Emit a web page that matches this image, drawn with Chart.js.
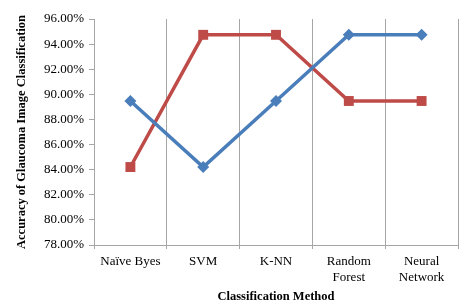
<!DOCTYPE html>
<html>
<head>
<meta charset="utf-8">
<script src="https://cdn.jsdelivr.net/npm/chart.js@4/dist/chart.umd.min.js"></script>
<style>
  html, body { margin: 0; padding: 0; background: #fff; }
  #wrap { width: 469px; height: 308px; }
</style>
</head>
<body>
<div id="wrap"><canvas id="grafico" width="469" height="308"></canvas></div>
<script>
// categorie e valori
var metodi = ['Naïve Byes', 'SVM', 'K-NN', ['Random', 'Forest'], ['Neural', 'Network']];
var serieBlu = [89.47, 84.21, 89.47, 94.74, 94.74];
var serieRossa = [84.21, 94.74, 94.74, 89.47, 89.47];
var tickMin = 78;
var tickMax = 96;
var tickStep = 2;

var serif = "'Liberation Serif', 'Times New Roman', serif";
var grigio = '#a6a6a6';

var ctx = document.getElementById('grafico');
var chart = new Chart(ctx, {
    type: 'line',
    data: {
        labels: metodi,
        datasets: [{
            label: 'Serie 1',
            data: serieBlu,
            borderColor: '#4a7ebb',
            backgroundColor: '#4a7ebb',
            borderWidth: 3.5,
            pointStyle: 'rectRot',
            pointRadius: 6,
            pointBorderWidth: 0,
            tension: 0
        }, {
            label: 'Serie 2',
            data: serieRossa,
            borderColor: '#be4b48',
            backgroundColor: '#be4b48',
            borderWidth: 3.5,
            pointStyle: 'rect',
            pointRadius: 7,
            pointBorderWidth: 0,
            tension: 0
        }]
    },
    options: {
        responsive: false,
        animation: false,
        devicePixelRatio: 1,
        layout: { padding: { top: 19, right: 11, left: 0, bottom: 4 } },
        plugins: {
            legend: { display: false },
            tooltip: { enabled: false }
        },
        scales: {
            x: {
                offset: true,
                grid: {
                    offset: true,
                    color: grigio,
                    lineWidth: 1,
                    drawTicks: true,
                    tickLength: 4
                },
                border: { color: grigio },
                ticks: {
                    color: '#000',
                    font: { family: serif, size: 13 },
                    maxRotation: 0,
                    autoSkip: false,
                    padding: 5
                },
                title: {
                    display: true,
                    text: 'Classification Method',
                    color: '#000',
                    font: { family: serif, size: 12.5, weight: 'bold' },
                    padding: { top: 4, bottom: 0 }
                },
                afterFit: function (scale) { scale.height = 59; }
            },
            y: {
                min: tickMin,
                max: tickMax,
                grid: {
                    drawOnChartArea: false,
                    drawTicks: true,
                    tickLength: 5,
                    color: grigio
                },
                border: { color: grigio },
                ticks: {
                    stepSize: tickStep,
                    color: '#000',
                    font: { family: serif, size: 13 },
                    padding: 5,
                    callback: function (v) { return v.toFixed(2) + '%'; }
                },
                title: {
                    display: true,
                    text: 'Accuracy of Glaucoma Image Classification',
                    color: '#000',
                    font: { family: serif, size: 12.5, weight: 'bold' },
                    padding: { top: 14, bottom: 0 }
                },
                afterFit: function (scale) { scale.width = 94; }
            }
        }
    }
});
</script>
</body>
</html>
